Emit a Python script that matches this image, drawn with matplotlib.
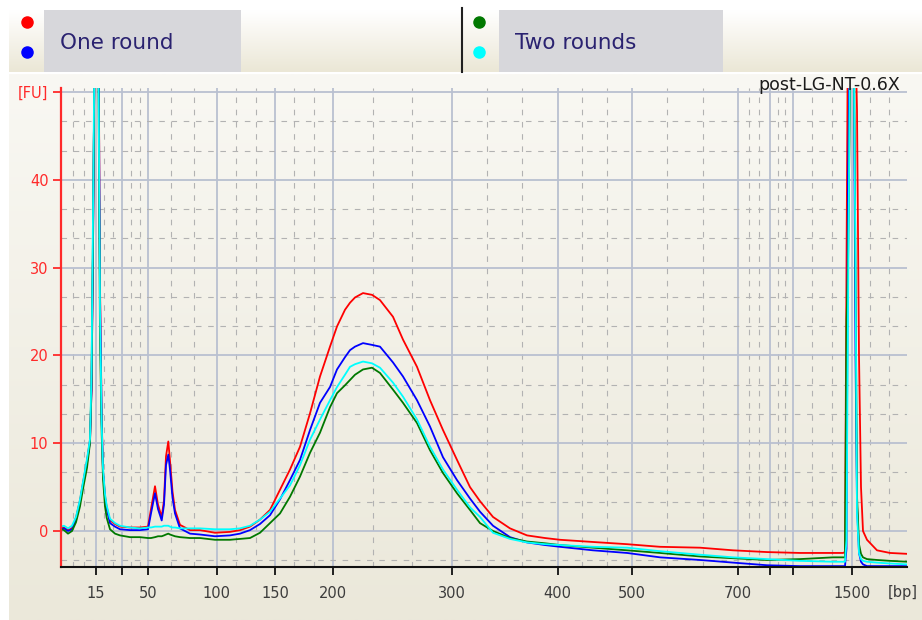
import numpy as np
import matplotlib

matplotlib.use("Agg")
import matplotlib.pyplot as plt
from matplotlib.colors import LinearSegmentedColormap
from matplotlib.lines import Line2D
from matplotlib.patches import Rectangle

# DNA ladder: fragment size [bp] against migration time [s]
ladder_bp = [15, 25, 50, 100, 150, 200, 300, 400, 500, 700, 850, 1000, 1500]
ladder_time = [39.57, 42.2, 44.83, 51.67, 57.5, 63.3, 75.17, 85.77, 93.2,
               103.8, 107.0, 109.27, 115.17]
ladder_labels = ["15", "", "50", "100", "150", "200", "300", "400", "500",
                 "700", "", "", "1500"]

# migration time [s] of the sampled points
time_s = [36.1, 36.4, 36.8, 37.2, 37.6, 38.0, 38.3, 38.7, 39.0, 39.15,
          39.3, 39.5, 39.7, 39.85, 40.0, 40.17, 40.3, 40.5, 40.67, 41.0,
          41.5, 42.0, 43.0, 44.0, 44.8, 45.1, 45.5, 45.8, 46.17, 46.4,
          46.6, 46.83, 47.0, 47.25, 47.5, 48.0, 49.0, 50.0, 51.5, 53.0,
          54.0, 55.0, 56.0, 57.0, 58.0, 59.0, 60.0, 61.0, 62.0, 63.0,
          63.7, 64.5, 65.0, 65.5, 66.3, 67.2, 68.0, 69.3, 70.3, 71.7,
          73.0, 74.3, 75.7, 77.0, 78.0, 79.3, 81.0, 82.7, 84.5, 86.0,
          89.3, 92.7, 96.0, 100.0, 103.3, 106.7, 110.0, 113.3, 114.3, 114.5,
          114.65, 114.8, 115.0, 115.2, 115.4, 115.55, 115.7, 115.9, 116.1, 116.3,
          116.7, 117.7, 119.0, 120.7]

# fluorescence [FU]
one_round_red = [0.3, 0.4, 0.1, 0.3, 1.5, 3.5, 5.5, 8.0, 10.4, 16,
                 32, 62, 70, 58, 28, 12.7, 7.0, 4.0, 2.7, 1.2,
                 0.8, 0.5, 0.4, 0.4, 0.5, 2.5, 5.1, 3.0, 1.6, 3.5,
                 8.5, 10.2, 8.0, 4.5, 2.4, 0.7, 0.1, 0.1, -0.2, -0.1,
                 0.1, 0.5, 1.3, 2.4, 4.7, 7.0, 9.6, 13.4, 17.6, 21.0,
                 23.3, 25.2, 26.0, 26.6, 27.1, 26.9, 26.3, 24.4, 21.8, 18.7,
                 14.9, 11.5, 8.1, 5.0, 3.4, 1.6, 0.3, -0.5, -0.8, -1.0,
                 -1.25, -1.5, -1.8, -1.9, -2.2, -2.4, -2.5, -2.5, -2.5, -2.4,
                 30, 60, 66, 66, 62, 56, 48, 20, 5, 0,
                 -1.0, -2.2, -2.5, -2.6]
one_round_blue = [0.2, 0.3, 0.0, 0.2, 1.3, 3.3, 5.3, 7.8, 10.2, 16,
                  32, 62, 70, 57, 27, 12.5, 6.8, 3.8, 2.5, 0.9,
                  0.5, 0.2, 0.1, 0.1, 0.2, 2.0, 4.3, 2.5, 1.2, 3.0,
                  7.5, 8.7, 7.0, 3.8, 2.0, 0.3, -0.3, -0.4, -0.6, -0.5,
                  -0.3, 0.1, 0.8, 1.8, 3.6, 5.8, 8.1, 11.5, 14.6, 16.4,
                  18.4, 19.8, 20.6, 21.0, 21.4, 21.2, 21.0, 19.2, 17.6, 14.9,
                  11.9, 8.4, 5.8, 3.7, 2.2, 0.6, -0.7, -1.3, -1.6, -1.8,
                  -2.2, -2.5, -3.0, -3.3, -3.6, -3.9, -4.0, -4.0, -4.0, -4.0,
                  -2, 40, 58, 62, 50, 20, 3, -2.5, -3.5, -3.8,
                  -4.0, -4.0, -4.0, -4.0]
two_rounds_green = [0.2, 0.1, -0.3, 0.0, 1.0, 2.8, 4.8, 7.2, 10.0, 17,
                    34, 60, 66, 50, 22, 11, 6.0, 2.8, 1.5, 0.2,
                    -0.3, -0.5, -0.7, -0.7, -0.8, -0.8, -0.7, -0.6, -0.6, -0.5,
                    -0.4, -0.3, -0.4, -0.5, -0.6, -0.7, -0.8, -0.8, -1.0, -1.0,
                    -0.9, -0.8, -0.2, 0.9, 2.0, 3.9, 6.2, 8.9, 11.2, 14.1,
                    15.7, 16.6, 17.2, 17.8, 18.4, 18.6, 18.0, 16.1, 14.6, 12.3,
                    9.2, 6.6, 4.3, 2.4, 0.9, 0.0, -0.8, -1.2, -1.4, -1.6,
                    -1.9, -2.2, -2.5, -2.9, -3.1, -3.3, -3.2, -3.0, -3.0, -3.0,
                    24, 30, 50, 60, 55, 30, 4, -1.5, -2.6, -3.0,
                    -3.2, -3.3, -3.4, -3.5]
two_rounds_cyan = [0.5, 0.6, 0.3, 0.6, 1.6, 3.6, 5.6, 8.2, 10.5, 18,
                   36, 62, 68, 52, 25, 12, 7.2, 4.2, 2.9, 1.4,
                   0.9, 0.6, 0.4, 0.3, 0.4, 0.4, 0.5, 0.5, 0.5, 0.6,
                   0.6, 0.6, 0.5, 0.4, 0.4, 0.3, 0.3, 0.3, 0.2, 0.2,
                   0.3, 0.6, 1.3, 2.2, 3.7, 5.2, 7.5, 10.4, 12.7, 14.9,
                   16.4, 17.8, 18.7, 19.0, 19.3, 19.1, 18.6, 16.9, 15.3, 12.7,
                   9.6, 7.0, 4.7, 2.7, 1.6, -0.2, -0.9, -1.3, -1.5, -1.6,
                   -1.8, -1.9, -2.3, -2.7, -3.0, -3.2, -3.4, -3.5, -3.5, -3.5,
                   -1, 25, 55, 60, 52, 30, 2, -2.5, -3.2, -3.4,
                   -3.5, -3.6, -3.7, -3.8]

W, H = 922, 620


def fx(px):
    return px / W


def fy(py):
    return 1 - py / H


fig = plt.figure(figsize=(W / 100, H / 100), dpi=100, facecolor="white")

# beige background with soft vertical gradient
bg_cmap = LinearSegmentedColormap.from_list("bg", ["#f9f8f3", "#ebe8da"])
bg = fig.add_axes([fx(9), 0, 1 - fx(9), fy(74)], zorder=-2)
bg.imshow(np.linspace(0, 1, 256).reshape(-1, 1), cmap=bg_cmap, aspect="auto",
          extent=[0, 1, 0, 1])
bg.axis("off")

# header band with legend
hdr_cmap = LinearSegmentedColormap.from_list("hdr", ["#ffffff", "#ebe7d6"])
hdr = fig.add_axes([fx(9), fy(72), 1 - fx(9), (72 - 10) / H], zorder=-1)
hdr.imshow(np.linspace(0, 1, 64).reshape(-1, 1), cmap=hdr_cmap, aspect="auto",
           extent=[0, 1, 0, 1])
hdr.axis("off")

for x0, x1, label in [(44, 241, "One round"), (499, 723, "Two rounds")]:
    fig.add_artist(Rectangle((fx(x0), fy(72)), fx(x1) - fx(x0), (72 - 10) / H,
                             transform=fig.transFigure, facecolor="#d7d7db",
                             edgecolor="none"))
    fig.text(fx(x0 + 16), fy(43), label, fontsize=15.5, color="#2a2270",
             va="center", ha="left")

for px, py, c in [(27, 22, "#ff0000"), (27, 52, "#0000ff"),
                  (479, 22, "#007800"), (479, 52, "#00ffff")]:
    fig.add_artist(Line2D([fx(px)], [fy(py)], marker="o", ms=8, color=c,
                          transform=fig.transFigure))
fig.add_artist(Line2D([fx(462), fx(462)], [fy(8), fy(72)], color="#202020",
                      lw=1.5, transform=fig.transFigure))

# main electropherogram
ax = fig.add_axes([fx(61), fy(567), fx(907) - fx(61), (567 - 88) / H])
ax.set_facecolor("none")
ax.set_axisbelow(True)

ax.plot(time_s, one_round_red, color="#ff0000", lw=1.3)
ax.plot(time_s, one_round_blue, color="#0000ff", lw=1.3)
ax.plot(time_s, two_rounds_green, color="#007800", lw=1.3)
ax.plot(time_s, two_rounds_cyan, color="#00ffff", lw=1.3)

ax.set_xlim(36.1, 120.7)
ax.set_ylim(-4.1, 50.46)

ax.set_xticks(ladder_time)
ax.set_xticklabels(ladder_labels)
edges = [36.1] + ladder_time + [120.7]
minor_x = []
for a, b in zip(edges[:-1], edges[1:]):
    minor_x += [a + (b - a) / 3, a + 2 * (b - a) / 3]
ax.set_xticks(minor_x, minor=True)

ax.set_yticks([0, 10, 20, 30, 40, 50])
ax.set_yticklabels(["0", "10", "20", "30", "40", "[FU]"])
minor_y = [v for v in np.arange(-10 / 3, 50, 10 / 3) if abs(v / 10 - round(v / 10)) > 0.01]
ax.set_yticks(minor_y, minor=True)

ax.grid(True, which="major", color="#b9c0d0", lw=1.3)
ax.grid(True, which="minor", color="#b2b2b2", lw=0.8, linestyle=(0, (5, 6)))

ax.tick_params(which="minor", length=0)
ax.tick_params(axis="x", which="major", length=6, width=1.3, color="#101010",
               labelsize=10.5, labelcolor="#3c3c3c", pad=8)
ax.tick_params(axis="y", which="major", length=6, width=1.3, color="#ff2a2a",
               labelsize=10.5, labelcolor="#ff2a2a", pad=3)

ax.spines["top"].set_visible(False)
ax.spines["right"].set_visible(False)
ax.spines["left"].set_color("#ff2a2a")
ax.spines["left"].set_linewidth(1.6)
ax.spines["bottom"].set_color("#101010")
ax.spines["bottom"].set_linewidth(1.5)

fig.text(fx(888), fy(593), "[bp]", fontsize=10.5, color="#3c3c3c",
         va="center", ha="left")
fig.text(fx(900), fy(85), "post-LG-NT-0.6X", fontsize=12.5, color="#1a1a1a",
         va="center", ha="right")

fig.savefig("out.png", dpi=100, facecolor=fig.get_facecolor())
